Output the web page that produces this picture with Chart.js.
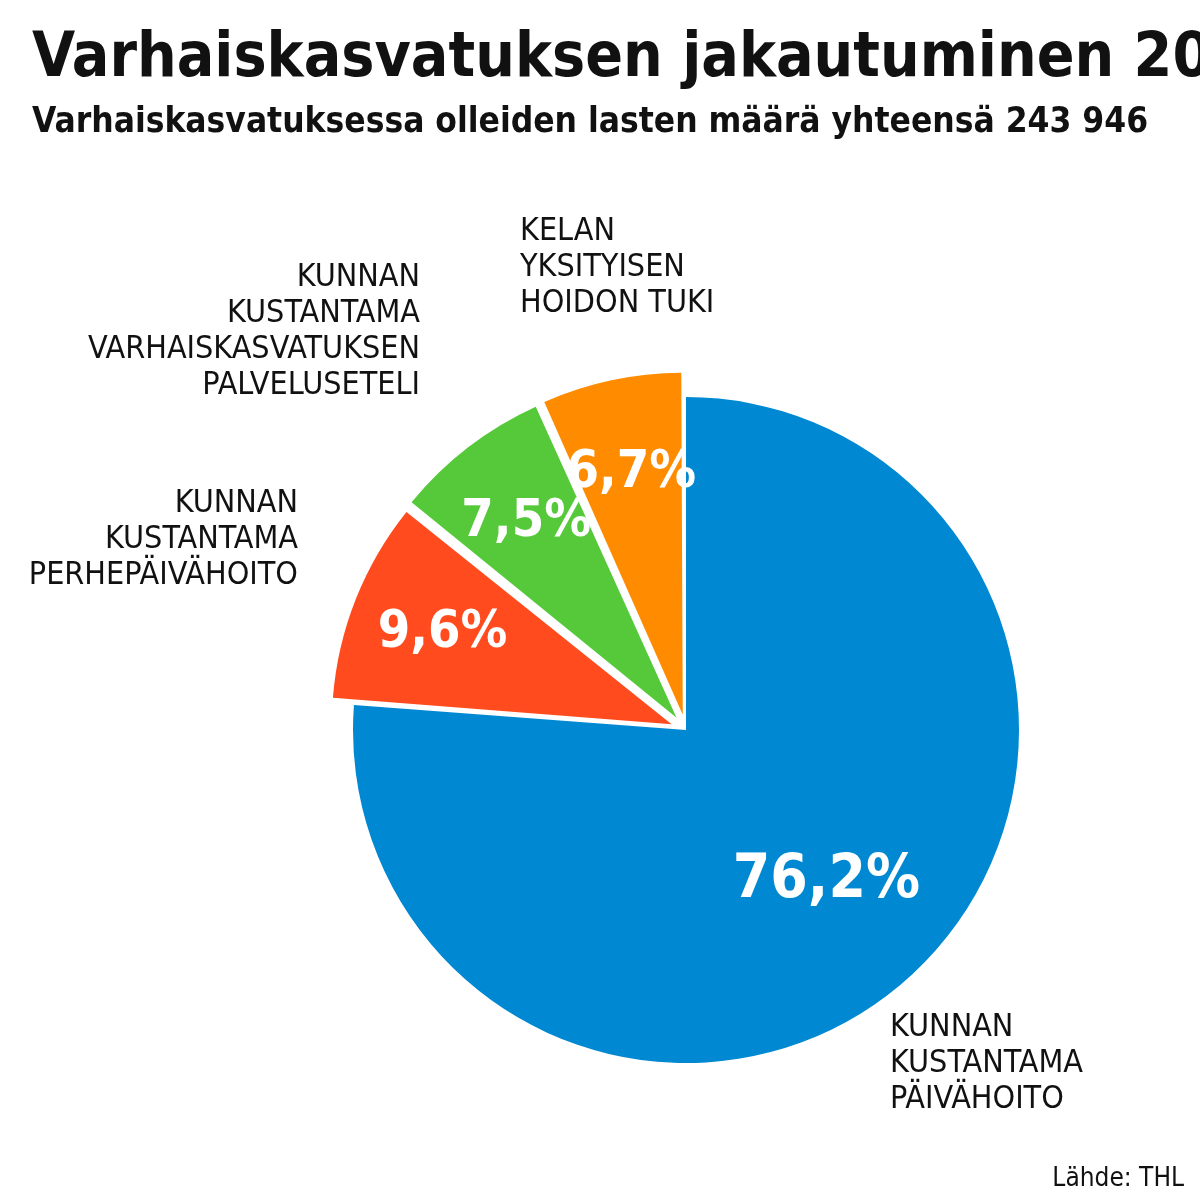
<!DOCTYPE html>
<html>
<head>
<meta charset="utf-8">
<script src="https://cdn.jsdelivr.net/npm/chart.js@4/dist/chart.umd.min.js"></script>
<style>
  body { margin: 0; background: #fff; }
  #wrap { position: absolute; left: 0; top: 0; width: 1200px; height: 1200px; }
</style>
</head>
<body>
<div id="wrap"><canvas id="chart-pie" width="1200" height="1200"></canvas></div>
<script>
const FONT = '"Liberation Sans Narrow", "DejaVu Sans Condensed", "Roboto", sans-serif';

// data
const categories = [
    ['KUNNAN', 'KUSTANTAMA', 'PÄIVÄHOITO'],
    ['KUNNAN', 'KUSTANTAMA', 'PERHEPÄIVÄHOITO'],
    ['KUNNAN', 'KUSTANTAMA', 'VARHAISKASVATUKSEN', 'PALVELUSETELI'],
    ['KELAN', 'YKSITYISEN', 'HOIDON TUKI'],
];
const shares = [76.2, 9.6, 7.5, 6.7];
const sliceColors = ['#0088d2', '#ff4b1e', '#55c93a', '#ff8c00'];
const sliceOffsets = [0, 62, 62, 62];

// where the category names sit, and how they are aligned
const labelSpots = [
    { x: 890, y: 1012, align: 'left' },
    { x: 298, y: 488, align: 'right' },
    { x: 420, y: 262, align: 'right' },
    { x: 520, y: 216, align: 'left' },
];

const labelsPlugin = {
    id: 'sliceLabels',
    afterDatasetsDraw(chart) {
        const ctx = chart.ctx;
        const arcs = chart.getDatasetMeta(0).data;
        ctx.save();
        ctx.fillStyle = '#fff';
        ctx.textAlign = 'center';
        ctx.textBaseline = 'middle';
        arcs.forEach((arc, i) => {
            const mid = (arc.startAngle + arc.endAngle) / 2;
            const off = sliceOffsets[i];
            const r = i === 0 ? arc.outerRadius * 0.62 : arc.outerRadius * 0.6 + off;
            const x = arc.x + Math.cos(mid) * r;
            const y = arc.y + Math.sin(mid) * r;
            ctx.font = `bold ${i === 0 ? 60 : 52}px ${FONT}`;
            ctx.fillText(shares[i].toFixed(1).replace('.', ',') + '%', x, y);
        });
        ctx.fillStyle = '#111';
        ctx.textBaseline = 'top';
        ctx.font = `32px ${FONT}`;
        categories.forEach((lines, i) => {
            const s = labelSpots[i];
            ctx.textAlign = s.align;
            lines.forEach((line, j) => ctx.fillText(line, s.x, s.y + j * 36));
        });
        ctx.restore();
    }
};

const titlePlugin = {
    id: 'titles',
    afterDraw(chart) {
        const ctx = chart.ctx;
        ctx.save();
        ctx.fillStyle = '#111';
        ctx.textBaseline = 'alphabetic';
        ctx.textAlign = 'left';
        ctx.font = `bold 62px ${FONT}`;
        ctx.fillText('Varhaiskasvatuksen jakautuminen 2016', 32, 76);
        ctx.font = `bold 35px ${FONT}`;
        ctx.fillText('Varhaiskasvatuksessa olleiden lasten määrä yhteensä 243 946', 32, 132);
        ctx.font = `26px ${FONT}`;
        ctx.textAlign = 'right';
        ctx.fillText('Lähde: THL', 1184, 1186);
        ctx.restore();
    }
};

new Chart(document.getElementById('chart-pie'), {
    type: 'pie',
    data: {
        labels: categories.map(l => l.join(' ')),
        datasets: [{
            data: shares,
            backgroundColor: sliceColors,
            borderWidth: 0,
            offset: sliceOffsets,
        }]
    },
    options: {
        responsive: false,
        animation: false,
        radius: 333,
        layout: { padding: { left: 172, top: 260, right: 0, bottom: 0 } },
        plugins: {
            legend: { display: false },
            tooltip: { enabled: false }
        }
    },
    plugins: [labelsPlugin, titlePlugin]
});
</script>
</body>
</html>
